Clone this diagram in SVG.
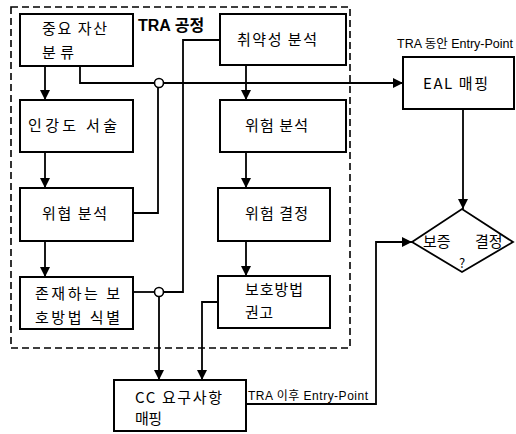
<svg xmlns="http://www.w3.org/2000/svg" width="516" height="434" viewBox="0 0 516 434">
<style>
.box{fill:#fff;stroke:#000;stroke-width:2}
.ln{fill:none;stroke:#000;stroke-width:1.8}
.t{font-family:"Noto Sans CJK KR","Liberation Sans",sans-serif;font-size:15px;fill:#000}
.s{font-family:"Liberation Sans","Noto Sans CJK KR",sans-serif;font-size:12px;fill:#000}
.b{font-family:"Liberation Sans","Noto Sans CJK KR",sans-serif;font-size:16px;font-weight:bold;fill:#000}
</style>
<defs>
<marker id="ah" markerWidth="10" markerHeight="10" viewBox="0 0 10 10" refX="10" refY="5" orient="auto" markerUnits="userSpaceOnUse">
<path d="M0,0 L10,5 L0,10 Z" fill="#000"/>
</marker>
</defs>
<rect x="11" y="7" width="339" height="341" fill="none" stroke="#000" stroke-width="1.6" stroke-dasharray="7,4"/>
<text class="b" x="138" y="31">TRA 공정</text>
<g id="connectors">
<path class="ln" d="M45,66 V100" marker-end="url(#ah)"/>
<path class="ln" d="M45,152 V188" marker-end="url(#ah)"/>
<path class="ln" d="M45,241 V277" marker-end="url(#ah)"/>
<path class="ln" d="M246,65 V100" marker-end="url(#ah)"/>
<path class="ln" d="M246,152 V188" marker-end="url(#ah)"/>
<path class="ln" d="M246,241 V276" marker-end="url(#ah)"/>
<path class="ln" d="M80,66 V83 H403" marker-end="url(#ah)"/>
<path class="ln" d="M133,213 H158 V87"/>
<path class="ln" d="M220,40 H183 V292 H163"/>
<path class="ln" d="M133,292 H154"/>
<path class="ln" d="M159,296 V380" marker-end="url(#ah)"/>
<path class="ln" d="M218,302 H202 V380" marker-end="url(#ah)"/>
<path class="ln" d="M246,404 H376 V242 H412" marker-end="url(#ah)"/>
<path class="ln" d="M463,109 V209" marker-end="url(#ah)"/>
<circle cx="159" cy="83" r="4.5" fill="#fff" stroke="#000" stroke-width="1.6"/>
<circle cx="159" cy="292" r="4.5" fill="#fff" stroke="#000" stroke-width="1.6"/>
<text class="s" x="397" y="48" textLength="116" lengthAdjust="spacingAndGlyphs">TRA 동안 Entry-Point</text>
<text class="s" x="248" y="400" textLength="120" lengthAdjust="spacing">TRA 이후 Entry-Point</text>
</g>
<g id="n1"><rect class="box" x="20" y="14" width="113" height="52"/><text class="t" x="42" y="34" textLength="65" lengthAdjust="spacing">중요 자산</text><text class="t" x="42" y="58" textLength="32" lengthAdjust="spacing">분류</text></g>
<g id="n2"><rect class="box" x="20" y="100" width="113" height="52"/><text class="t" x="28" y="131" textLength="89" lengthAdjust="spacing">인강도 서술</text></g>
<g id="n3"><rect class="box" x="20" y="188" width="113" height="53"/><text class="t" x="42" y="219" textLength="65" lengthAdjust="spacing">위협 분석</text></g>
<g id="n4"><rect class="box" x="20" y="277" width="113" height="52"/><text class="t" x="35" y="299" textLength="85" lengthAdjust="spacing">존재하는 보</text><text class="t" x="35" y="323" textLength="85" lengthAdjust="spacing">호방법 식별</text></g>
<g id="n5"><rect class="box" x="220" y="14" width="126" height="51"/><text class="t" x="237" y="45" textLength="80" lengthAdjust="spacing">취약성 분석</text></g>
<g id="n6"><rect class="box" x="220" y="100" width="126" height="52"/><text class="t" x="245" y="131" textLength="63" lengthAdjust="spacing">위험 분석</text></g>
<g id="n7"><rect class="box" x="218" y="188" width="112" height="53"/><text class="t" x="245" y="219" textLength="63" lengthAdjust="spacing">위험 결정</text></g>
<g id="n8"><rect class="box" x="218" y="276" width="112" height="52"/><text class="t" x="245" y="295" textLength="58" lengthAdjust="spacing">보호방법</text><text class="t" x="245" y="318" textLength="28" lengthAdjust="spacing">권고</text></g>
<g id="n9"><rect class="box" x="114" y="380" width="132" height="51"/><text class="t" x="135" y="403" textLength="87" lengthAdjust="spacing">CC 요구사항</text><text class="t" x="135" y="424" textLength="27" lengthAdjust="spacing">매핑</text></g>
<g id="n10"><rect class="box" x="403" y="57" width="111" height="52"/><text class="t" x="423" y="89" textLength="65" lengthAdjust="spacing">EAL 매핑</text></g>
<g id="n11"><polygon points="412,242 462,209 513,242 462,272" fill="#fff" stroke="#000" stroke-width="1.8"/><text class="t" y="247"><tspan x="423">보증</tspan><tspan x="475">결정</tspan></text><text class="t" x="462" y="268" text-anchor="middle" style="font-size:13px">?</text></g>
</svg>
